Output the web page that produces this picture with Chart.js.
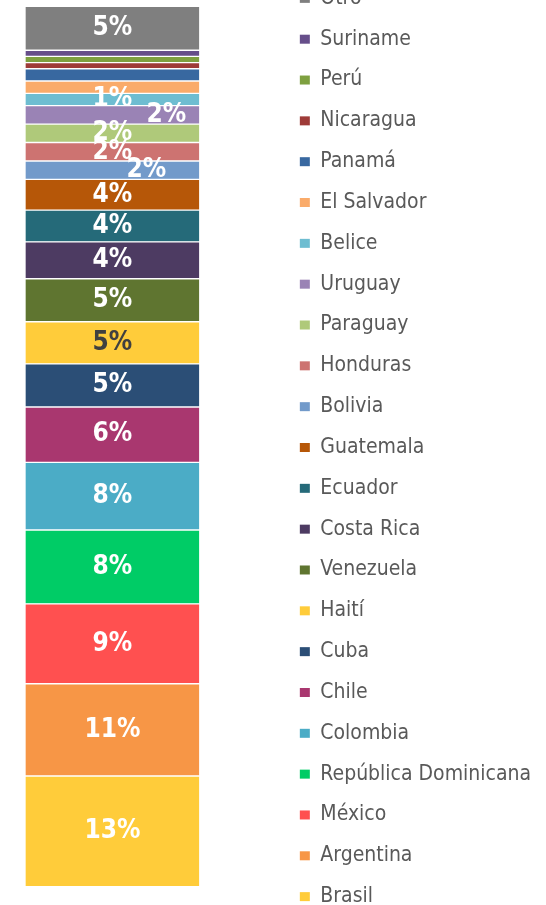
<!DOCTYPE html>
<html>
<head>
<meta charset="utf-8">
<script src="https://cdn.jsdelivr.net/npm/chart.js@4"></script>
<style>
html,body{margin:0;padding:0;background:#ffffff;overflow:hidden;width:546px;height:905px;}
#wrap{position:absolute;left:0;top:-50px;width:546px;height:1000px;}
</style>
</head>
<body>
<div id="wrap"><canvas id="c" width="546" height="1000"></canvas></div>
<script>
// ---- data (bottom of the stack first) ----
const categories = [''];
const countries = ['Brasil','Argentina','México','República Dominicana','Colombia','Chile','Cuba','Haití','Venezuela','Costa Rica','Ecuador','Guatemala','Bolivia','Honduras','Paraguay','Uruguay','Belice','El Salvador','Panamá','Nicaragua','Perú','Suriname','Otro'];
const shares = [12.6,10.5,9.1,8.4,7.7,6.3,4.9,4.8,4.9,4.2,3.6,3.5,2.1,2.1,2.1,2.1,1.4,1.4,1.4,0.7,0.7,0.7,5.0];
const colors = ['#FFCC3A','#F79646','#FF5050','#00CC66','#4BACC6','#A9376F','#2B4E76','#FFCC3A','#5F7530','#4D3B62','#256A79','#B65708','#729ACA','#CD7371','#AFC97A','#9A83B5','#6EBDD1','#FAAB6A','#3868A0','#9E3B38','#7EA040','#664E8A','#7F7F7F'];

// label styling
const hiddenLabels = ['El Salvador','Panamá','Nicaragua','Perú','Suriname'];
const darkLabels = ['Haití'];
const labelShift = {'Uruguay':54,'Bolivia':34};

const total = shares.reduce((a,b)=>a+b,0);
const yPadLow = 5.38;
const yPadHigh = 5.16;

const labelPlugin = {
  id:'segLabels',
  afterDatasetsDraw(chart){
    const ctx = chart.ctx;
    ctx.save();
    ctx.font = '700 26px "DejaVu Sans Condensed", "DejaVu Sans", sans-serif';
    ctx.textAlign = 'center';
    ctx.textBaseline = 'middle';
    chart.data.datasets.forEach((ds,i)=>{
      if (hiddenLabels.includes(ds.label)) return;
      const el = chart.getDatasetMeta(i).data[0];
      const y = (el.y + el.base)/2;
      const x = el.x + (labelShift[ds.label] || 0);
      ctx.fillStyle = darkLabels.includes(ds.label) ? '#404040' : '#ffffff';
      ctx.fillText(Math.round(ds.data[0]) + '%', x, y);
    });
    ctx.restore();
  }
};

const datasets = countries.map((name,i)=>({
  label: name,
  data: [shares[i]],
  backgroundColor: colors[i],
  borderColor: '#ffffff',
  borderWidth: 1,
  borderSkipped: false,
  categoryPercentage: 1,
  barPercentage: 1
}));

new Chart(document.getElementById('c'), {
  type: 'bar',
  data: { labels: categories, datasets },
  plugins: [labelPlugin],
  options: {
    responsive: false,
    animation: false,
    devicePixelRatio: 1,
    events: [],
    layout: { padding: { left: 25, right: 16, top: 11, bottom: 16 } },
    scales: {
      x: { stacked: true, display: false },
      y: {
        stacked: true, display: false, position: 'right',
        min: -yPadLow, max: total + yPadHigh,
        afterFit(s){ s.width = 80.2; }
      }
    },
    plugins: {
      tooltip: { enabled: false },
      legend: {
        position: 'right',
        align: 'center',
        reverse: true,
        maxWidth: 250,
        labels: {
          boxWidth: 10,
          boxHeight: 9,
          padding: 19.83,
          color: '#595959',
          font: { family: '"DejaVu Sans Condensed", "DejaVu Sans", sans-serif', size: 21 },
          generateLabels: (chart) => Chart.defaults.plugins.legend.labels.generateLabels(chart).map(l => ({...l, lineWidth: 0}))
        }
      }
    }
  }
});
</script>
</body>
</html>
